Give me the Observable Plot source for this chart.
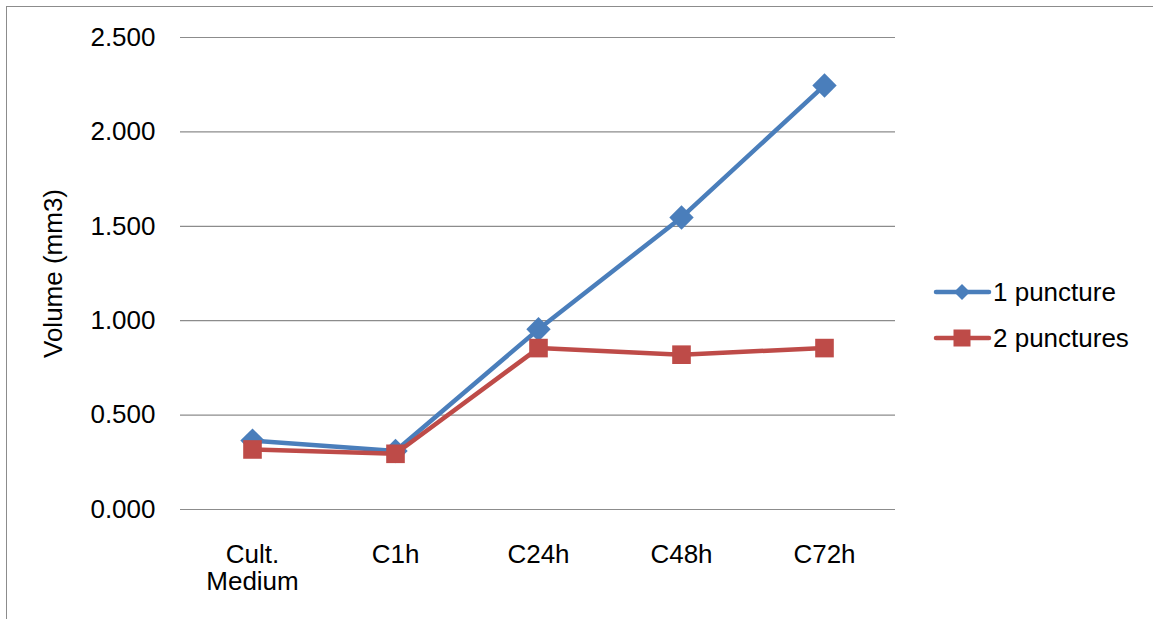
<!DOCTYPE html>
<html>
<head>
<meta charset="utf-8">
<script src="https://cdn.jsdelivr.net/npm/d3@7"></script>
<script src="https://cdn.jsdelivr.net/npm/@observablehq/plot@0.6"></script>
<style>
  html, body { margin: 0; padding: 0; background: #fff; }
  #wrap { position: relative; width: 1153px; height: 619px; overflow: hidden; font-family: "Liberation Sans", Arial, sans-serif; }
  #frame { position: absolute; left: 6px; top: 6px; width: 1160px; height: 640px; border: 1px solid #8c8c8c; box-sizing: border-box; }
  #chart { position: absolute; left: 0; top: 0; }
  #legend { position: absolute; left: 934px; top: 269px; font-size: 26px; color: #000; }
  .item { display: flex; align-items: center; height: 46px; }
  .item svg { margin-right: 2px; }
</style>
</head>
<body>
<div id="wrap">
  <div id="frame"></div>
  <div id="chart"></div>
  <div id="legend"></div>
</div>
<script>
const categories = ["Cult.\nMedium", "C1h", "C24h", "C48h", "C72h"];
const seriesNames = ["1 puncture", "2 punctures"];
const onePuncture = [0.365, 0.31, 0.955, 1.547, 2.246];
const twoPunctures = [0.318, 0.295, 0.855, 0.82, 0.855];
const yTicks = [0, 0.5, 1.0, 1.5, 2.0, 2.5];
const colors = ["#4a7ebb", "#be4b48"];
const symbols = ["diamond2", "square"];

const data = [];
categories.forEach((c, i) => {
  data.push({cat: c, value: onePuncture[i], series: seriesNames[0]});
});
categories.forEach((c, i) => {
  data.push({cat: c, value: twoPunctures[i], series: seriesNames[1]});
});

const fmt = d => d.toFixed(3);

const chart = Plot.plot({
  width: 1153,
  height: 619,
  marginLeft: 180,
  marginRight: 258,
  marginTop: 37,
  marginBottom: 110,
  style: {fontFamily: "'Liberation Sans', Arial, sans-serif", fontSize: "26px", color: "#000", background: "transparent", overflow: "visible"},
  x: {type: "point", domain: categories, padding: 0.5},
  y: {domain: [0, 2.5]},
  color: {domain: seriesNames, range: colors},
  symbol: {domain: seriesNames, range: symbols},
  marks: [
    Plot.gridY(yTicks, {stroke: "#8c8c8c", strokeOpacity: 1, strokeWidth: 1.2}),
    Plot.ruleX([0], {frameAnchor: "left", stroke: "#8c8c8c", strokeWidth: 1.2}),
    Plot.axisY(yTicks, {tickSize: 0, tickPadding: 25, tickFormat: fmt, fontSize: 26,
      label: "Volume (mm3)", labelAnchor: "center", labelArrow: "none", labelOffset: 137}),
    Plot.axisX({tickSize: 0, tickPadding: 34, fontSize: 26, lineHeight: 1.05, label: null}),
    Plot.line(data.filter(d => d.series === seriesNames[0]), {x: "cat", y: "value", stroke: colors[0], strokeWidth: 4.5}),
    Plot.dot(data.filter(d => d.series === seriesNames[0]), {x: "cat", y: "value", fill: colors[0], symbol: "diamond2", r: 11, stroke: null}),
    Plot.line(data.filter(d => d.series === seriesNames[1]), {x: "cat", y: "value", stroke: colors[1], strokeWidth: 4.5}),
    Plot.dot(data.filter(d => d.series === seriesNames[1]), {x: "cat", y: "value", fill: colors[1], symbol: "square", r: 10.5, stroke: null}),
    Plot.ruleY([0], {stroke: "#8c8c8c", strokeWidth: 1.2})
  ]
});
document.getElementById("chart").appendChild(chart);

// Legend
const legend = document.getElementById("legend");
seriesNames.forEach((name, i) => {
  const item = document.createElement("div");
  item.className = "item";
  const sym = i === 0
    ? `<polygon points="28,0 36,8 28,16 20,8" fill="${colors[0]}"/>`
    : `<rect x="19.5" y="-0.5" width="17" height="17" fill="${colors[1]}"/>`;
  item.innerHTML = `<svg width="57" height="16" viewBox="0 0 57 16" style="overflow:visible"><line x1="2" y1="8" x2="55" y2="8" stroke="${colors[i]}" stroke-width="4.5" stroke-linecap="round"/>${sym}</svg><span>${name}</span>`;
  legend.appendChild(item);
});
</script>
</body>
</html>
